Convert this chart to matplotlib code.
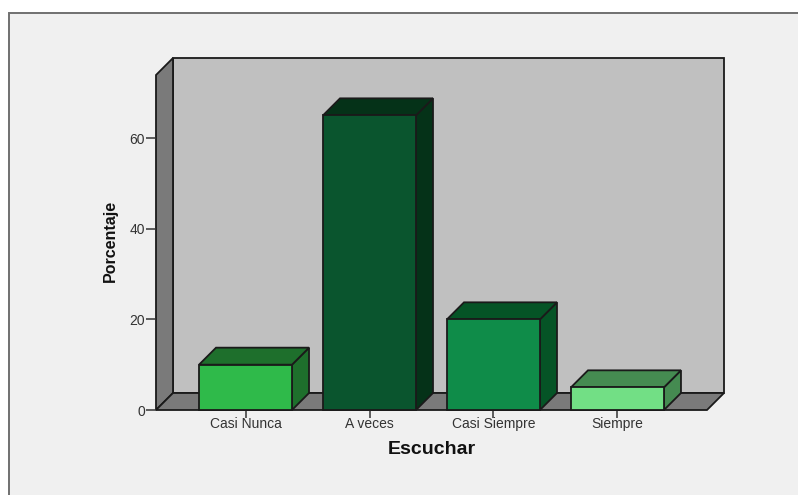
import matplotlib
matplotlib.use('Agg')
import matplotlib.pyplot as plt
from matplotlib.patches import Polygon, Rectangle

categories = ['Casi Nunca', 'A veces', 'Casi Siempre', 'Siempre']
values = [10, 65, 20, 5]
front_colors = ['#2fba4a', '#0a552e', '#0f8c49', '#72df85']
shade_colors = ['#1e6f2c', '#053218', '#055426', '#458b51']
y_ticks = [0, 20, 40, 60]

W, H = 798, 495
EDGE = '#1a1a1a'

plt.rcParams['font.family'] = ['Liberation Sans', 'DejaVu Sans']

fig = plt.figure(figsize=(W / 100, H / 100), dpi=100, facecolor='white')

# chart frame, behind the axes
fig.add_artist(Rectangle((9 / W, -0.01), 1.0, (H - 13) / H + 0.01, transform=fig.transFigure,
                         facecolor='#f0f0f0', edgecolor='#707070', linewidth=1.4, zorder=-1))

ax = fig.add_axes([156 / W, (H - 410) / H, (707 - 156) / W, (410 - 75) / H])
ax.patch.set_visible(False)
x_min, x_max = -0.722, 3.722
y_max = 73.9
ax.set_xlim(x_min, x_max)
ax.set_ylim(0, y_max)

# depth of the 3d effect, in data units
dx = 17 / 124
dy = 17 / (335 / y_max)


def poly(points, color, z=1):
    ax.add_patch(Polygon(points, closed=True, facecolor=color, edgecolor=EDGE,
                         linewidth=1.3, joinstyle='miter', clip_on=False, zorder=z))


# walls
poly([(x_min + dx, dy), (x_max + dx, dy), (x_max + dx, y_max + dy), (x_min + dx, y_max + dy)], '#c0c0c0')
poly([(x_min, 0), (x_min + dx, dy), (x_min + dx, y_max + dy), (x_min, y_max)], '#7a7a7a')
poly([(x_min, 0), (x_max, 0), (x_max + dx, dy), (x_min + dx, dy)], '#7a7a7a')

# bars
bar_w = 0.75
for i, v in enumerate(values):
    l, r = i - bar_w / 2, i + bar_w / 2
    poly([(r, 0), (r + dx, dy), (r + dx, v + dy), (r, v)], shade_colors[i], 3)
    poly([(l, v), (r, v), (r + dx, v + dy), (l + dx, v + dy)], shade_colors[i], 3)
    poly([(l, 0), (r, 0), (r, v), (l, v)], front_colors[i], 4)

for s in ax.spines.values():
    s.set_visible(False)

ax.set_xticks(range(len(categories)))
ax.set_xticklabels(categories, fontsize=10, color='#333333')
ax.set_yticks(y_ticks)
ax.tick_params(axis='x', length=6, width=1.1, color='#333333', pad=-0.8)
ax.tick_params(axis='y', length=7, width=1.1, color='#333333', pad=0.8, labelsize=10, labelcolor='#333333')

fig.text(431.5 / W, (H - 449) / H, 'Escuchar', fontsize=14, fontweight='bold',
         ha='center', va='center', color='#111111')
fig.text(110 / W, (H - 241) / H, 'Porcentaje', fontsize=11.5, fontweight='bold',
         rotation=90, ha='center', va='center', color='#111111')

fig.savefig('out.png', dpi=100, facecolor=fig.get_facecolor())
